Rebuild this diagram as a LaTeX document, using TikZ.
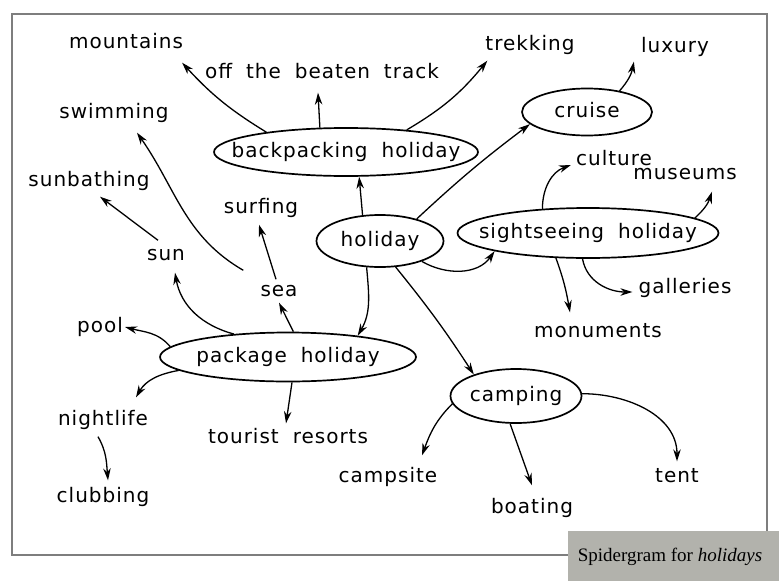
\documentclass[tikz,border=0pt]{standalone}
\usepackage{fontspec}
\setmainfont[LetterSpace=5,WordSpace=1.9]{DejaVu Sans}
\newfontfamily\capfont{Liberation Serif}
\usetikzlibrary{shapes.geometric,arrows.meta,calc}
\definecolor{framegray}{HTML}{7E7E7E}
\definecolor{capgray}{HTML}{B2B2AC}
\begin{document}
\begin{tikzpicture}[x=1pt,y=-1pt,
  lbl/.style={inner sep=2pt, font=\fontsize{20}{22}\selectfont, text height=15pt, text depth=4pt},
  oval/.style={ellipse, draw, line width=1.7pt, inner sep=0pt},
  conn/.style={draw, line width=1.3pt, -{Stealth[length=12pt,width=7.5pt]}}]
\useasboundingbox (0,0) rectangle (779,581);
\fill[white] (0,0) rectangle (779,581);
\draw[line width=2.8pt, framegray] (12,14) rectangle (767,555);
\fill[capgray] (568,531) rectangle (779,581);
\node[font=\capfont\fontsize{19}{21}\selectfont] (cap) at (670,557) {Spidergram for \textit{holidays}};

% ovals
\node[oval, minimum width=264pt, minimum height=48pt, label={[lbl]center:backpacking holiday}] (bp) at (346,152) {};
\node[oval, minimum width=127pt, minimum height=52pt, label={[lbl]center:holiday}] (hol) at (380,241) {};
\node[oval, minimum width=130pt, minimum height=47pt, label={[lbl]center:cruise}] (cru) at (587,112) {};
\node[oval, minimum width=261pt, minimum height=50pt, label={[lbl]center:sightseeing holiday}] (ss) at (588,233) {};
\node[oval, minimum width=131pt, minimum height=54pt, label={[lbl]center:camping}] (camp) at (516,396) {};
\node[oval, minimum width=256pt, minimum height=49pt, label={[lbl]center:package holiday}] (pkg) at (288,357) {};

% labels
\node[lbl] (mtn) at (126,43) {mountains};
\node[lbl] (obt) at (322,73) {off the beaten track};
\node[lbl] (trek) at (530,45) {trekking};
\node[lbl] (lux) at (675,47) {luxury};
\node[lbl] (swim) at (114,113) {swimming};
\node[lbl] (sunb) at (89,181) {sunbathing};
\node[lbl] (surf) at (261,208) {surfing};
\node[lbl] (sun) at (166,255) {sun};
\node[lbl] (sea) at (279,291) {sea};
\node[lbl] (cul) at (614,160) {culture};
\node[lbl] (mus) at (685,174) {museums};
\node[lbl] (gal) at (685,288) {galleries};
\node[lbl] (mon) at (598,332) {monuments};
\node[lbl] (pool) at (100,327) {pool};
\node[lbl] (nl) at (103,420) {nightlife};
\node[lbl] (club) at (103,497) {clubbing};
\node[lbl] (tr) at (288,438) {tourist resorts};
\node[lbl] (cs) at (388,477) {campsite};
\node[lbl] (boat) at (532,508) {boating};
\node[lbl] (tent) at (677,477) {tent};

% connectors
\draw[conn] (bp.166) to[bend left=8] ($(mtn.south east)+(-3,8)$);
\draw[conn] (bp.137) to ($(obt.south)+(-4,8)$);
\draw[conn] (bp.20) to[bend right=10] ($(trek.south west)+(4,4)$);
\draw[conn] (hol.124) to (bp.-62);
\draw[conn] (hol.31) to[bend left=3] (cru.192);
\draw[conn] (hol.-26) to[out=-30,in=-125] (ss.191);
\draw[conn] (hol.-117) to[out=-85,in=60] (pkg.17);
\draw[conn] (hol.-59) to[bend left=3] (camp.153);
\draw[conn] (cru.33) to[bend right=15] ($(lux.south west)+(-5,3)$);
\draw[conn] (ss.152) to[out=90,in=200] ($(cul.west)+(-3,5)$);
\draw[conn] (ss.8) to[bend right=15] ($(mus.south)+(27,6)$);
\draw[conn] (ss.-142) to[out=-70,in=100] ($(mon.north)+(-28,-8)$);
\draw[conn] (ss.-102) to[out=-80,in=180] ($(gal.west)+(-4,4)$);
\draw[conn] ($(sea.north)+(-3,0)$) to ($(surf.south)+(-2,5)$);
\draw[conn] ($(sea.north west)+(-15,-9)$) to[out=150,in=-55] ($(swim.south)+(23,8)$);
\draw[conn] ($(sun.north)+(-8,-3)$) to ($(sunb.south)+(11,4)$);
\draw[conn] (pkg.157) to[out=165,in=-80] ($(sun.south)+(9,6)$);
\draw[conn] (pkg.78) to (sea.south);
\draw[conn] (pkg.175) to[out=130,in=-15] (pool.east);
\draw[conn] (pkg.187) to[out=190,in=60] ($(nl.north)+(33,-11)$);
\draw[conn] (pkg.-81) to ($(tr.north)+(-2,-3)$);
\draw[conn] ($(nl.south)+(-5,5)$) to[out=-60,in=95] ($(club.north)+(5,-5)$);
\draw[conn] (camp.187) to[out=-135,in=70] ($(cs.north)+(34,-10)$);
\draw[conn] (camp.-102) to ($(boat.north)+(0,-11)$);
\draw[conn] (camp.2) to[out=0,in=90] ($(tent.north)+(0,-4)$);
\end{tikzpicture}
\end{document}
